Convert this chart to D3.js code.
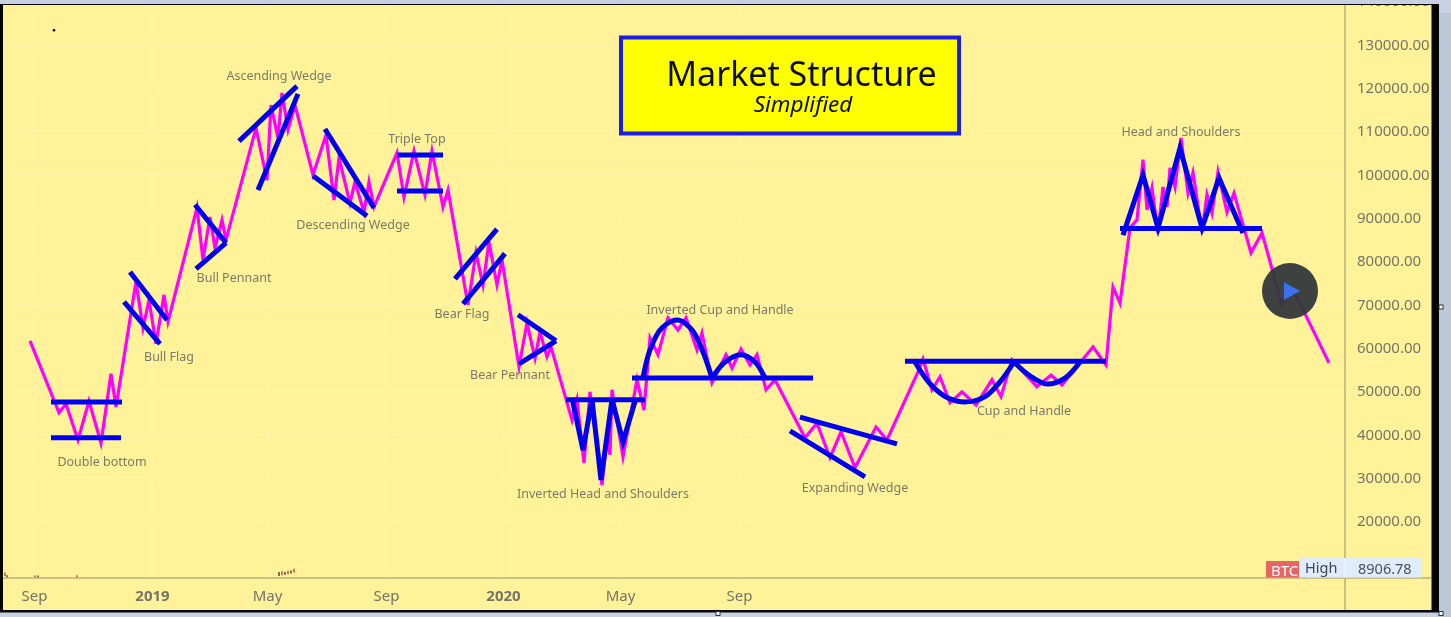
<!DOCTYPE html>
<html><head><meta charset="utf-8">
<script src="https://cdn.jsdelivr.net/npm/d3@7/dist/d3.min.js"></script>
<style>
html,body{margin:0;padding:0;background:#c7d1e3;overflow:hidden}
svg{display:block}
text{font-family:"Noto Sans",sans-serif}
</style></head><body><div id="chart"></div>
<script>
const priceTicks=[140000,130000,120000,110000,100000,90000,80000,70000,60000,50000,40000,30000,20000];
const timeTicks=[0,118,233,352,469,586,705];
const timeLabels=["Sep","2019","May","Sep","2020","May","Sep"];
const priceBars=[-4,25,32,44,55,67,77,82,102,109,115,122,130,134,163,169,176,181,188,192,222,233,237,244,248,254,261,279,292,300,305,316,321,330,335,340,363,370,380,391,398,409,414,434,442,449,455,463,468,485,493,501,506,513,517,538,543,550,556,568,573,576,578,589,603,610,616,624,634,644,652,663,668,678,692,698,707,716,723,732,741,771,783,796,807,821,842,853,884,889,898,906,916,928,942,958,967,978,1003,1017,1028,1059,1072,1079,1086,1096,1103,1109,1113,1118,1124,1129,1133,1136,1141,1147,1154,1159,1168,1173,1178,1184,1193,1200,1217,1228,1248,1258,1295];
const priceValues=[61600,45000,47000,38700,47700,38000,54000,46300,75200,64600,71000,60900,72200,66000,92300,80300,90200,83000,89500,84900,110700,98700,116000,108400,118800,110300,116000,99900,109100,94100,103800,93400,98300,91300,98300,92500,105000,94800,105400,95300,105400,92500,96400,69900,81900,74500,84400,74500,80300,55600,65700,57600,63600,57900,60200,43300,48000,33400,49800,28300,39400,35300,50300,34800,52600,45600,62300,58400,66900,64100,66900,59500,63400,51900,58400,55300,59700,56000,58400,50300,52600,39200,42600,34600,40600,32300,41700,38700,54400,57400,50300,53300,47300,49800,46800,52600,48700,57200,51000,53700,51400,60200,56000,74000,70300,87700,89500,103400,91800,96900,86500,97100,92500,101500,97100,108400,95700,100400,86700,95300,91100,100600,91300,95700,81900,86500,69900,74000,56500];
const doubleBottom=[[[17,47500],[88,47500]],[[17,39200],[87,39200]]];
const bullFlag=[[[96,77500],[133,66400]],[[90,70600],[126,60900]]];
const bullPennant=[[[161,93000],[192,84200]],[[162,78200],[192,84200]]];
const ascendingWedge=[[[205,107700],[263,120400]],[[224,96400],[264,118600]]];
const descendingWedge=[[[291,110500],[340,92300]],[[279,99700],[333,90400]]];
const tripleTop=[[[363,104500],[409,104500]],[[363,96200],[409,96200]]];
const bearFlag=[[[421,75900],[463,87400]],[[429,70100],[471,81700]]];
const bearPennant=[[[484,67600],[522,61600]],[[485,56300],[522,61600]]];
const invHeadShoulders=[[[532,48000],[611,48000]],[[538,48400],[549,36400],[558,48000],[567,29500],[578,48000],[589,38300],[602,48400]]];
const invCupNeck=[[[598,53000],[779,53000]]];
const expandingWedge=[[[766,44000],[863,37800]],[[756,40800],[831,30200]]];
const cupNeck=[[[871,56850],[1072,56850]]];
const headShoulders=[[[1086,87540],[1228,87540]],[[1089,86000],[1109,99900],[1124,87650],[1146,106100],[1168,87650],[1185,99200],[1209,86500]]];
const invCupCurves=[[[609,53000],[616,59500],[628,64600],[644,66400],[658,64100],[669,59000],[678,53000]],[[678,53000],[691,56700],[707,58400],[721,56700],[731,53000]]];
const cupCurves=[[[881,56700],[896,51700],[914,48400],[933,47500],[951,48700],[966,52100],[980,56700]],[[980,56700],[996,53500],[1013,51650],[1031,53000],[1046,56700]]];
const labelTexts=["Double bottom","Bull Flag","Bull Pennant","Ascending Wedge","Triple Top","Descending Wedge","Bear Flag","Bear Pennant","Inverted Head and Shoulders","Inverted Cup and Handle","Expanding Wedge","Cup and Handle","Head and Shoulders"];
const labelBars=[68,135,200,245,383,319,428,476,569,686,821,990,1147];
const labelPrices=[33700,58000,76200,122700,108200,88400,67800,53700,26300,68700,27650,45400,110000];
const miniBars=[-29,-27,1,4,43,245,248,251,254,257,260];
const miniLow=[7300,7000,7000,7000,7000,7300,7500,7600,7700,7900,8100];
const miniHigh=[8100,7500,7400,7400,7500,8200,8400,8200,8500,8600,9000];
const lastPrice=8906.78;

const W=1451,H=617;
const svg=d3.select("#chart").append("svg").attr("width",W).attr("height",H);
const defs=svg.append("defs");
defs.append("clipPath").attr("id","panel").append("rect").attr("x",3).attr("y",5).attr("width",1428.5).attr("height",605);
const soft=defs.append("filter").attr("id","soft").attr("x","-5%").attr("y","-5%").attr("width","110%").attr("height","110%");
soft.append("feGaussianBlur").attr("stdDeviation",0.5);

const x=d3.scaleLinear().domain([0,705]).range([34,739]);
const y=d3.scaleLinear().domain([130000,20000]).range([44.5,521]);

svg.append("rect").attr("x",1439).attr("y",13).attr("width",12).attr("height",604).attr("fill","#bcc7da");
svg.append("rect").attr("x",0).attr("y",4).attr("width",1439).attr("height",608.5).attr("fill","#050505");
const g=svg.append("g").attr("clip-path","url(#panel)").attr("filter","url(#soft)");
g.append("rect").attr("x",3).attr("y",5).attr("width",1428.5).attr("height",605).attr("fill","#fff299");

const grid="#fff4a8", axisC="#b7b07e", tickC="#74746a", labelC="#7a7a68";
g.append("g").selectAll("line").data(priceTicks).join("line")
 .attr("x1",3).attr("x2",1345).attr("y1",d=>y(d)).attr("y2",d=>y(d)).attr("stroke",grid);
g.append("g").selectAll("line").data(timeTicks).join("line")
 .attr("x1",d=>x(d)).attr("x2",d=>x(d)).attr("y1",5).attr("y2",578).attr("stroke",grid);

const yAxis=g.append("g").attr("transform","translate(1345,0)")
 .call(d3.axisRight(y).tickValues(priceTicks).tickSize(0).tickPadding(12).tickFormat(d=>d3.format(".2f")(d)));
yAxis.select(".domain").remove();
yAxis.selectAll("text").attr("fill",tickC).style("font-size","15px");
g.append("line").attr("x1",1345).attr("x2",1345).attr("y1",5).attr("y2",610).attr("stroke",axisC).attr("stroke-width",1.5);

const xAxis=g.append("g").attr("transform","translate(0,578)")
 .call(d3.axisBottom(x).tickValues(timeTicks).tickSize(0).tickPadding(12).tickFormat((d,i)=>timeLabels[i]));
xAxis.select(".domain").remove();
xAxis.selectAll("text").attr("fill",tickC).style("font-size","15px").style("font-weight",d=>(d===118||d===469)?700:400);
g.append("line").attr("x1",3).attr("x2",1431).attr("y1",578).attr("y2",578).attr("stroke",axisC).attr("stroke-width",1.5);

g.append("g").selectAll("line").data(miniBars).join("line")
 .attr("x1",d=>x(d)).attr("x2",d=>x(d))
 .attr("y1",(d,i)=>y(miniLow[i])).attr("y2",(d,i)=>y(miniHigh[i]))
 .attr("stroke",(d,i)=>i%2?"#444":"#c9483c").attr("stroke-width",1.5);
g.append("circle").attr("cx",x(20)).attr("cy",y(133300)).attr("r",1.3).attr("fill","#000");

const line=d3.line().x(d=>x(d[0])).y(d=>y(d[1]));
g.append("path").datum(priceBars.map((b,i)=>[b,priceValues[i]])).attr("d",line)
 .attr("fill","none").attr("stroke","#ff00ff").attr("stroke-width",3.2).attr("stroke-linejoin","miter").attr("stroke-miterlimit",6);

const straight=[doubleBottom,bullFlag,bullPennant,ascendingWedge,descendingWedge,tripleTop,bearFlag,bearPennant,invHeadShoulders,invCupNeck,expandingWedge,cupNeck,headShoulders].flat();
g.append("g").selectAll("path").data(straight).join("path").attr("d",line)
 .attr("fill","none").attr("stroke","#0000f0").attr("stroke-width",5).attr("stroke-linejoin","miter");
const curve=d3.line().x(d=>x(d[0])).y(d=>y(d[1])).curve(d3.curveCatmullRom);
g.append("g").selectAll("path").data([...invCupCurves,...cupCurves]).join("path").attr("d",curve)
 .attr("fill","none").attr("stroke","#0000f0").attr("stroke-width",5);

g.append("g").selectAll("text").data(labelTexts).join("text")
 .attr("x",(d,i)=>x(labelBars[i])).attr("y",(d,i)=>y(labelPrices[i])).attr("dy","0.35em")
 .attr("text-anchor","middle").attr("fill",labelC).style("font-size","12.5px").text(d=>d);

// title box
g.append("rect").attr("x",621).attr("y",37.5).attr("width",338).attr("height",96).attr("fill","#ffff00").attr("stroke","#1a1ae6").attr("stroke-width",4);
g.append("text").attr("x",801.5).attr("y",85.5).attr("text-anchor","middle").attr("fill","#111").style("font-size","34px").text("Market Structure");
g.append("text").attr("x",803).attr("y",112).attr("text-anchor","middle").attr("fill","#111").style("font-size","22.5px").style("font-style","italic").text("Simplified");

// last-price tag and legend
const ly=y(lastPrice);
g.append("rect").attr("x",1266).attr("y",ly-8).attr("width",40).attr("height",16.5).attr("fill","#e56565");
g.append("text").attr("x",1271).attr("y",ly+1.5).attr("dy","0.35em").attr("fill","#fff").style("font-size","15px").text("BTC");
g.append("rect").attr("x",1299).attr("y",ly-11).attr("width",122).attr("height",19.5).attr("fill","#e0ecfb");
g.append("line").attr("x1",1345).attr("x2",1345).attr("y1",ly-11).attr("y2",ly+8.5).attr("stroke","#eef4fb");
g.append("text").attr("x",1305).attr("y",ly-1).attr("dy","0.35em").attr("fill","#3f4450").style("font-size","14.5px").text("High");
g.append("text").attr("x",1358).attr("y",ly).attr("dy","0.35em").attr("fill","#4a4f5a").style("font-size","14.5px").text(d3.format(".2f")(lastPrice));

// play button
g.append("circle").attr("cx",1290).attr("cy",291).attr("r",28).attr("fill","#33383a").attr("opacity",0.95);
g.append("path").attr("d",d3.line()([[1284,282],[1300,291],[1284,300]])+"Z").attr("fill","#3b6ff0");

// resize handles
svg.append("g").selectAll("rect").data([[1441,307],[718,613.5],[1441,613.5]]).join("rect")
 .attr("x",d=>d[0]-2).attr("y",d=>d[1]-2).attr("width",4).attr("height",4).attr("fill","#fff").attr("stroke","#333").attr("stroke-width",1);
</script></body></html>
